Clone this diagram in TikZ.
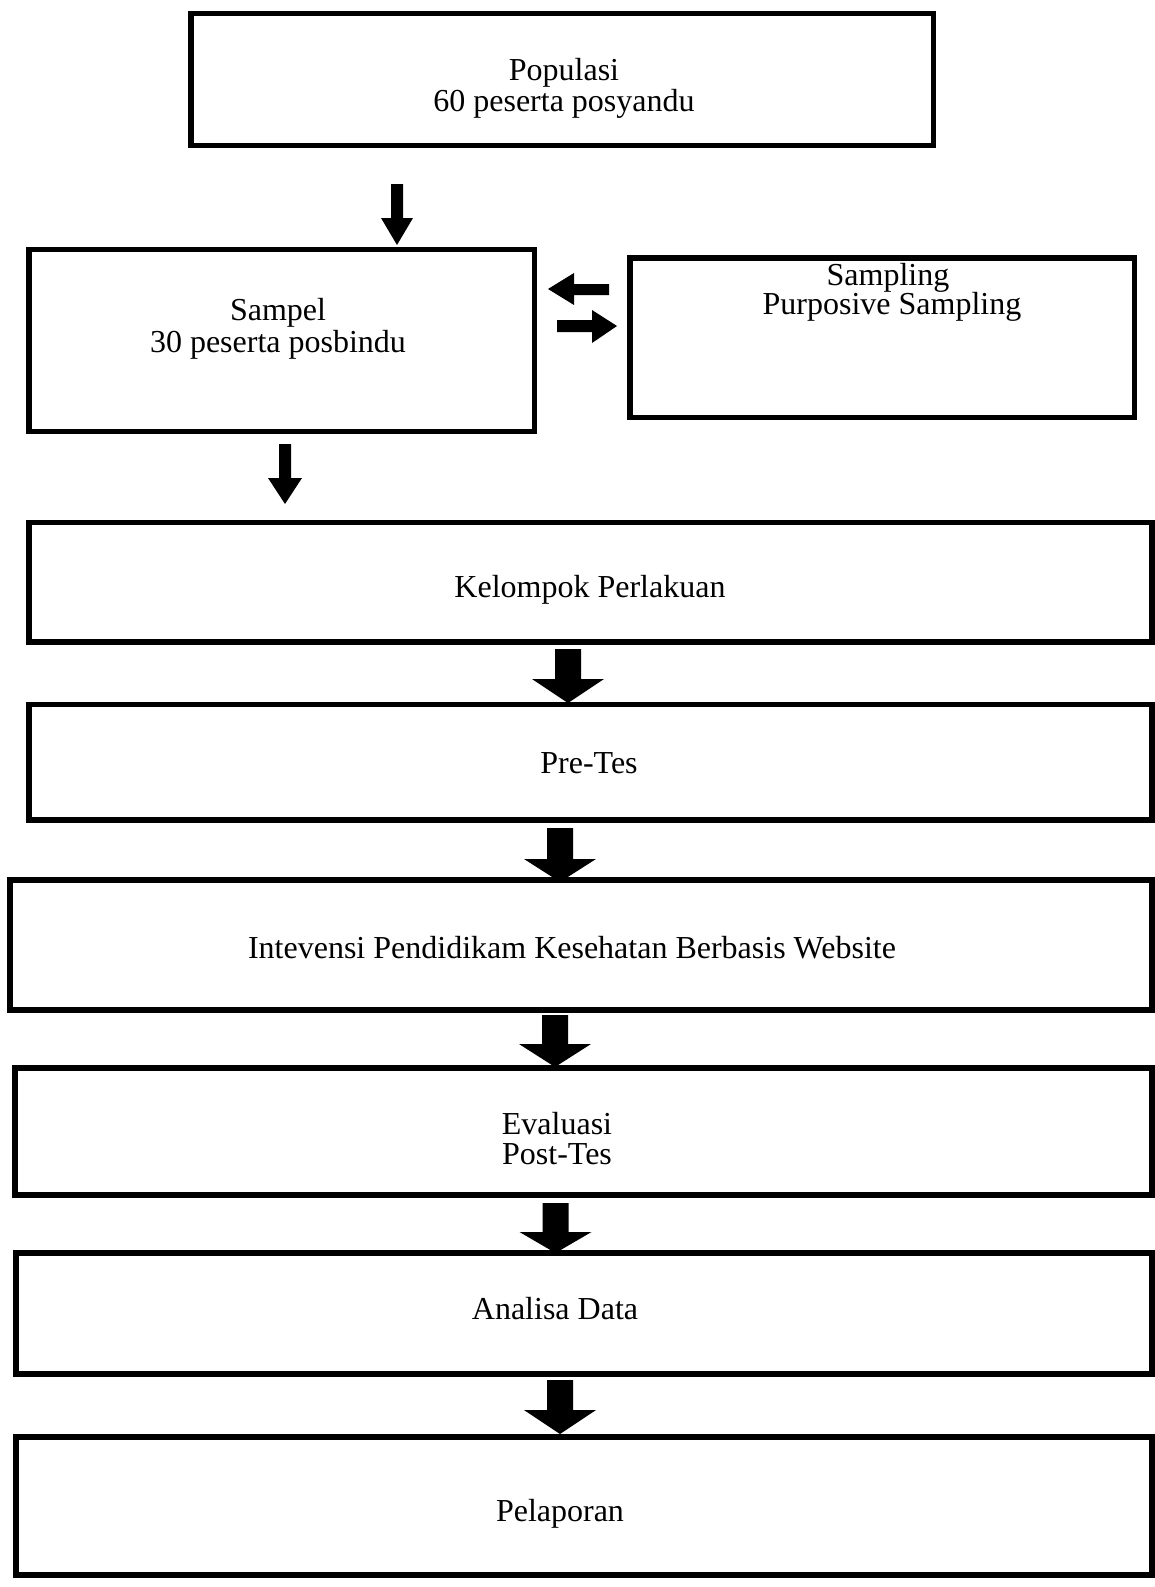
\documentclass[tikz,border=0pt]{standalone}
\usepackage{fontspec}
\setmainfont{Liberation Serif}
\begin{document}
\begin{tikzpicture}[x=1pt,y=-1pt,
  boxline/.style={draw=black,line width=5.5pt,line join=miter},
  lbl/.style={anchor=base,inner sep=0pt,font=\fontsize{32}{30}\selectfont},
  blk/.style={fill=black,draw=none}]
\useasboundingbox (0,0) rectangle (1155,1587);
% boxes
\newcommand\mybox[5]{\path[boxline] (#2,#3) rectangle (#4,#5);
  \coordinate (#1-n) at ({(#2+#4)/2},#3); \coordinate (#1-s) at ({(#2+#4)/2},#5);}
\mybox{pop}{191}{13.5}{933.5}{145.5}
\mybox{sam}{29}{249.5}{534.5}{431.5}
\mybox{smp}{630}{258}{1134.5}{417.5}
\mybox{kel}{29}{522.5}{1152}{642}
\mybox{pre}{29}{704.5}{1152}{820}
\mybox{int}{10}{880}{1152}{1010}
\mybox{eva}{15}{1068}{1152}{1195}
\mybox{ana}{16}{1253}{1152}{1374}
\mybox{pel}{16}{1437}{1152}{1575}
% texts
\node[lbl] (t1) at (564,81) {Populasi};
\node[lbl] (t2) at (564,111) {60 peserta posyandu};
\node[lbl] (t3) at (278,320) {Sampel};
\node[lbl] (t4) at (278,352) {30 peserta posbindu};
\node[lbl] (t5) at (888,285) {Sampling};
\node[lbl] (t6) at (892,314) {Purposive Sampling};
\node[lbl] (t7) at (590,597) {Kelompok Perlakuan};
\node[lbl] (t8) at (589,773) {Pre-Tes};
\node[lbl] (t9) at (572,958) {Intevensi Pendidikam Kesehatan Berbasis Website};
\node[lbl] (t10) at (557,1134) {Evaluasi};
\node[lbl] (t11) at (557,1164) {Post-Tes};
\node[lbl] (t12) at (555,1319) {Analisa Data};
\node[lbl] (t13) at (560,1521) {Pelaporan};
% block arrows: center x, top y, head-base y, tip y, half shaft, half head
\newcommand\darrow[6]{\fill (#1-#5,#2) -- (#1+#5,#2) -- (#1+#5,#3) -- (#1+#6,#3) -- (#1,#4) -- (#1-#6,#3) -- (#1-#5,#3) -- cycle;}
\darrow{397}{184}{218}{245}{6}{16}
\darrow{285}{444}{478}{504}{6}{17}
\darrow{568}{649}{679}{703}{13}{36}
\darrow{560}{828}{859}{882}{13}{36}
\darrow{555}{1015}{1044}{1067}{13}{36}
\darrow{555.5}{1203}{1232}{1253}{13}{36}
\darrow{560}{1380}{1410}{1434}{13}{36}
% horizontal arrows
\fill (609,284) -- (574,284) -- (574,273) -- (548,289) -- (574,305) -- (574,295) -- (609,295) -- cycle;
\fill (557,320) -- (592,320) -- (592,310) -- (617,326) -- (592,343) -- (592,332) -- (557,332) -- cycle;
\end{tikzpicture}
\end{document}
